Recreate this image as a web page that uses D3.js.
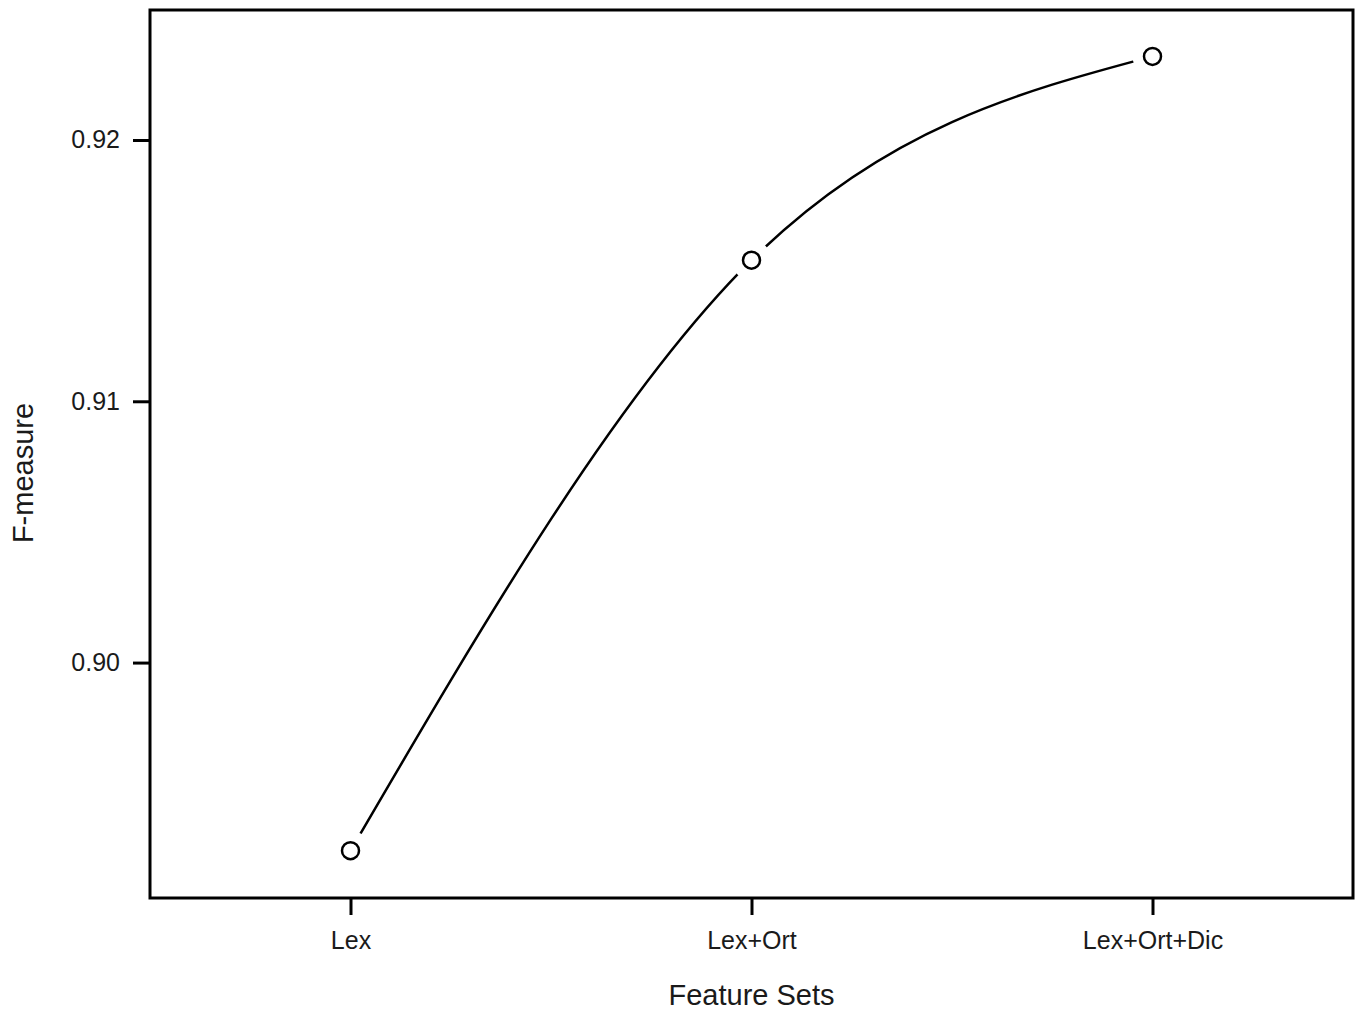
<!DOCTYPE html>
<html>
<head>
<meta charset="utf-8">
<script src="https://cdn.jsdelivr.net/npm/d3@7"></script>
<style>
  html, body { margin: 0; padding: 0; background: #fff; }
  text { font-family: "Liberation Sans", Arial, sans-serif; fill: #1a1a1a; }
</style>
</head>
<body>
<svg id="chart" width="1362" height="1015"></svg>
<script>
const categories = ["Lex", "Lex+Ort", "Lex+Ort+Dic"];
const fmeasure = [0.8928, 0.9154, 0.9232];
const yTicks = [0.90, 0.91, 0.92];
const yTickLabels = ["0.90", "0.91", "0.92"];
const xTitle = "Feature Sets";
const yTitle = "F-measure";

const svg = d3.select("#chart");
const mLeft = 150, mRight = 1353, mTop = 10, mBottom = 898;

const x = d3.scaleLinear().domain([-0.5, categories.length - 0.5]).range([mLeft, mRight]);
const y = d3.scaleLinear().domain([0.89099, 0.924975]).range([mBottom, mTop]);

const data = categories.map((c, i) => ({ c, i, v: fmeasure[i] }));

// mask to leave gaps around points
const defs = svg.append("defs");
const mask = defs.append("mask").attr("id", "gapmask").attr("maskUnits", "userSpaceOnUse")
  .attr("x", 0).attr("y", 0).attr("width", 1362).attr("height", 1015);
mask.append("rect").attr("width", 1362).attr("height", 1015).attr("fill", "#fff");
mask.selectAll("circle").data(data).join("circle")
  .attr("cx", d => x(d.i)).attr("cy", d => y(d.v)).attr("r", 20).attr("fill", "#000");

const line = d3.line().x(d => x(d.i)).y(d => y(d.v)).curve(d3.curveNatural);
svg.append("path").datum(data)
  .attr("d", line)
  .attr("fill", "none").attr("stroke", "#000").attr("stroke-width", 2.5)
  .attr("mask", "url(#gapmask)");

svg.selectAll("circle.pt").data(data).join("circle")
  .attr("class", "pt")
  .attr("cx", d => x(d.i)).attr("cy", d => y(d.v)).attr("r", 8.5)
  .attr("fill", "#fff").attr("stroke", "#000").attr("stroke-width", 2.5);

// box
svg.append("rect").attr("x", mLeft).attr("y", mTop)
  .attr("width", mRight - mLeft).attr("height", mBottom - mTop)
  .attr("fill", "none").attr("stroke", "#000").attr("stroke-width", 3);

// x axis
const xAxis = d3.axisBottom(x)
  .tickValues(categories.map((c, i) => i))
  .tickFormat(i => categories[i])
  .tickSize(17).tickPadding(16);
const gx = svg.append("g").attr("transform", `translate(0,${mBottom})`).call(xAxis);
gx.select(".domain").remove();
gx.selectAll(".tick line").attr("stroke", "#000").attr("stroke-width", 3);
gx.selectAll(".tick text").style("font-size", "25px").style("font-family", "Liberation Sans, Arial, sans-serif").attr("fill", "#1a1a1a");

// y axis
const yAxis = d3.axisLeft(y)
  .tickValues(yTicks)
  .tickFormat((d, i) => yTickLabels[i])
  .tickSize(17).tickPadding(13);
const gy = svg.append("g").attr("transform", `translate(${mLeft},0)`).call(yAxis);
gy.select(".domain").remove();
gy.selectAll(".tick line").attr("stroke", "#000").attr("stroke-width", 3);
gy.selectAll(".tick text").style("font-size", "25px").style("font-family", "Liberation Sans, Arial, sans-serif").attr("fill", "#1a1a1a");

// titles
svg.append("text").attr("x", (mLeft + mRight) / 2).attr("y", 1005)
  .attr("text-anchor", "middle").style("font-size", "29px").text(xTitle);
svg.append("text").attr("transform", "translate(33,473) rotate(-90)")
  .attr("text-anchor", "middle").style("font-size", "29px").text(yTitle);
</script>
</body>
</html>
